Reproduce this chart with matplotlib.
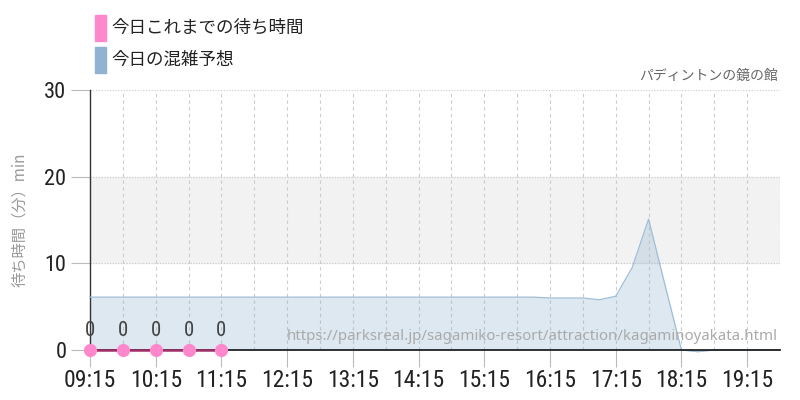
import matplotlib
matplotlib.use('Agg')
import matplotlib.pyplot as plt
from matplotlib import font_manager
from matplotlib.patches import Rectangle

# fonts: narrow font for digits if there is one
names = set(f.name for f in font_manager.fontManager.ttflist)
num_font = 'DejaVu Sans'
for cand in ['Liberation Sans Narrow', 'Roboto Condensed', 'Roboto']:
    if cand in names:
        num_font = cand
        break
jp = ['Noto Sans CJK JP', 'DejaVu Sans']

# data
forecast_times = ['09:15', '09:30', '09:45', '10:00', '10:15', '10:30', '10:45', '11:00',
                  '11:15', '11:30', '11:45', '12:00', '12:15', '12:30', '12:45', '13:00',
                  '13:15', '13:30', '13:45', '14:00', '14:15', '14:30', '14:45', '15:00',
                  '15:15', '15:30', '15:45', '16:00', '16:15', '16:30', '16:45', '17:00',
                  '17:15', '17:30', '17:45', '18:00', '18:15', '18:30', '18:45', '19:00',
                  '19:15', '19:30', '19:45']
forecast_vals = [6.1, 6.1, 6.1, 6.1, 6.1, 6.1, 6.1, 6.1,
                 6.1, 6.1, 6.1, 6.1, 6.1, 6.1, 6.1, 6.1,
                 6.1, 6.1, 6.1, 6.1, 6.1, 6.1, 6.1, 6.1,
                 6.1, 6.1, 6.1, 6.1, 6.0, 6.0, 6.0, 5.8,
                 6.2, 9.5, 15.1, 7.5, 0.0, -0.2, 0.0, 0.0,
                 0.0, 0.0, 0.0]
actual_times = ['09:15', '09:45', '10:15', '10:45', '11:15']
actual_vals = [0, 0, 0, 0, 0]
tick_labels = ['09:15', '10:15', '11:15', '12:15', '13:15', '14:15', '15:15',
               '16:15', '17:15', '18:15', '19:15']


def mins(t):
    h, m = t.split(':')
    return (int(h) - 9) * 60 + int(m) - 15


fx = [mins(t) for t in forecast_times]
ax_x = [mins(t) for t in actual_times]

fig = plt.figure(figsize=(8, 4), dpi=100)
ax = fig.add_axes([90 / 800, 50 / 400, 690 / 800, 260 / 400])

# grey band 10-20
ax.axhspan(10, 20, color='#f2f2f2', zorder=0)
for yv in [10, 20, 30]:
    ax.axhline(yv, color='#c8c8c8', lw=0.8, ls=(0, (1, 1.5)), zorder=1)
for xv in range(30, 631, 30):
    ax.axvline(xv, color='#cccccc', lw=0.8, ls=(0, (3, 3)), zorder=1)

# forecast
ax.fill_between(fx, forecast_vals, 0, color='#8fb3d0', alpha=0.3, lw=0, zorder=2,
                clip_on=False)
ax.plot(fx, forecast_vals, color='#9fbdd6', lw=0.9, zorder=3, clip_on=False)

# actual
ax.plot(ax_x, actual_vals, color='#a0306a', lw=1.8, zorder=5, clip_on=False)
ax.scatter(ax_x, actual_vals, s=90, color='#ff88cc', zorder=6, clip_on=False, lw=0)
for x, v in zip(ax_x, actual_vals):
    ax.text(x, v + 2.2, str(v), ha='center', va='center', fontsize=15,
            family=num_font, color='#444444', zorder=7)

ax.set_xlim(0, 630)
ax.set_ylim(0, 30)
ax.set_yticks([0, 10, 20, 30])
ax.set_xticks([mins(t) for t in tick_labels])
ax.set_xticklabels(tick_labels)
ax.tick_params(axis='x', length=12, color='#bbbbbb', labelsize=17, labelcolor='#222222', pad=2)
ax.tick_params(axis='y', length=14, color='#bbbbbb', labelsize=16, labelcolor='#222222', pad=3)
for lab in ax.get_xticklabels() + ax.get_yticklabels():
    lab.set_family(num_font)

for s in ['top', 'right']:
    ax.spines[s].set_visible(False)
ax.spines['left'].set_color('#333333')
ax.spines['left'].set_linewidth(1)
ax.spines['bottom'].set_color('#111111')
ax.spines['bottom'].set_linewidth(1.2)
ax.spines['bottom'].set_zorder(4)

ax.set_ylabel('待ち時間（分）min', family=jp, fontsize=11, color='#999999', labelpad=12)

# legend
fig.patches.append(Rectangle((95 / 800, 1 - 41 / 400), 11 / 800, 26 / 400,
                             transform=fig.transFigure, color='#ff88cc'))
fig.patches.append(Rectangle((95 / 800, 1 - 73 / 400), 11 / 800, 26 / 400,
                             transform=fig.transFigure, color='#8fb3d0'))
fig.text(111 / 800, 1 - 28 / 400, '今日これまでの待ち時間', family=jp, fontsize=12.6,
         color='#222222', va='center')
fig.text(111 / 800, 1 - 60 / 400, '今日の混雑予想', family=jp, fontsize=12.6,
         color='#222222', va='center')

fig.text(778 / 800, 1 - 76 / 400, 'パディントンの鏡の館', family=jp, fontsize=10,
         color='#666666', ha='right', va='center')
fig.text(778 / 800, 1 - 337 / 400,
         'https://parksreal.jp/sagamiko-resort/attraction/kagaminoyakata.html',
         family=['Noto Sans', 'DejaVu Sans'], fontsize=10.8, color='#aaaaaa',
         ha='right', va='center', zorder=10)

fig.savefig('out.png', dpi=100)
